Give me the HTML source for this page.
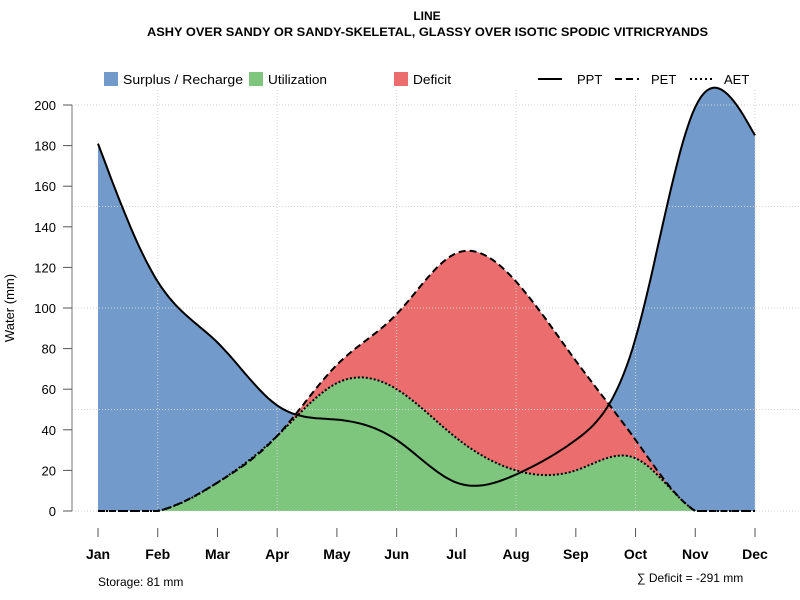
<!DOCTYPE html>
<html><head><meta charset="utf-8"><style>
body{margin:0;background:#fff}
svg{font-family:"Liberation Sans",sans-serif;display:block}
</style></head><body>
<svg id="c" width="800" height="600" xmlns="http://www.w3.org/2000/svg">
<text x="427" y="20" text-anchor="middle" font-size="12" font-weight="bold">LINE</text>
<text x="147" y="36" font-size="12" font-weight="bold" textLength="561" lengthAdjust="spacingAndGlyphs">ASHY OVER SANDY OR SANDY-SKELETAL, GLASSY OVER ISOTIC SPODIC VITRICRYANDS</text>
<g id="fills"></g><g id="grid"></g><g id="lines"></g><g id="axes"></g>
<g font-size="13">
<rect x="104" y="72" width="14" height="14" fill="#729ACA"/>
<text x="123" y="84" textLength="120" lengthAdjust="spacingAndGlyphs">Surplus / Recharge</text>
<rect x="249" y="72" width="14" height="14" fill="#7EC57D"/>
<text x="268" y="84" textLength="59" lengthAdjust="spacingAndGlyphs">Utilization</text>
<rect x="394" y="72" width="14" height="14" fill="#EB6D6E"/>
<text x="413" y="84" textLength="38" lengthAdjust="spacingAndGlyphs">Deficit</text>
<line x1="538" y1="79" x2="562" y2="79" stroke="#000" stroke-width="2"/>
<text x="577" y="84">PPT</text>
<line x1="615" y1="79" x2="639" y2="79" stroke="#000" stroke-width="2" stroke-dasharray="7,4"/>
<text x="651" y="84">PET</text>
<line x1="690" y1="79" x2="714" y2="79" stroke="#000" stroke-width="2" stroke-dasharray="2,3"/>
<text x="724" y="84">AET</text>
</g>
<text transform="translate(14,308) rotate(-90)" text-anchor="middle" font-size="13">Water (mm)</text>
<text x="98" y="586" font-size="12">Storage: 81 mm</text>
<text x="637" y="582" font-size="12">∑ Deficit = -291 mm</text>
</svg>
<script>
const months=["Jan","Feb","Mar","Apr","May","Jun","Jul","Aug","Sep","Oct","Nov","Dec"];
const ppt=[181,113,83,52,45,35,14,18,35,85,199,185];
const pet=[0,0,14,37,72,97,127,113,74,35,0,0];
const aet=[0,0,14,37,63,60,36,20,20,26,0,0];
const yTicks=[0,20,40,60,80,100,120,140,160,180,200];
const yGrid=[0,50,100,150,200];
const NS="http://www.w3.org/2000/svg";
const X=i=>98+i*(755-98)/11, Y=v=>511-v*(511-105)/200;
function spline(ys){const n=ys.length,m=new Array(n).fill(0);
 const a=[],b=[],c=[],d=[];for(let i=0;i<n;i++){if(i==0||i==n-1){a[i]=0;b[i]=1;c[i]=0;d[i]=0;}else{a[i]=1;b[i]=4;c[i]=1;d[i]=6*(ys[i+1]-2*ys[i]+ys[i-1]);}}
 for(let i=1;i<n;i++){const w=a[i]/b[i-1];b[i]-=w*c[i-1];d[i]-=w*d[i-1];}
 m[n-1]=d[n-1]/b[n-1];for(let i=n-2;i>=0;i--)m[i]=(d[i]-c[i]*m[i+1])/b[i];
 const pts=[];for(let i=0;i<n-1;i++){for(let k=0;k<20;k++){const t=k/20;
  const v=(1-t)*ys[i]+t*ys[i+1]+((1-t)**3-(1-t))*m[i]/6+(t**3-t)*m[i+1]/6;pts.push([X(i+t),Y(Math.max(0,v))]);}}
 pts.push([X(n-1),Y(ys[n-1])]);return pts;}
function el(t,at,p){const e=document.createElementNS(NS,t);for(const k in at)e.setAttribute(k,at[k]);p.appendChild(e);return e;}
const fills=document.getElementById('fills'),lines=document.getElementById('lines'),grid=document.getElementById('grid'),axes=document.getElementById('axes');
const sP=spline(ppt),sE=spline(pet),sA=spline(aet);
const d=p=>"M"+p.map(q=>q[0].toFixed(1)+","+q[1].toFixed(1)).join("L");
const area=p=>d(p)+"L"+X(11)+","+Y(0)+"L"+X(0)+","+Y(0)+"Z";
let e;
e=el('path',{d:area(sP),fill:'#729ACA'},fills);

e=el('path',{d:area(sE),fill:'#EB6D6E'},fills);

e=el('path',{d:area(sA),fill:'#7EC57D'},fills);

yGrid.forEach(v=>{e=el('line',{x1:72,x2:800,y1:Y(v),y2:Y(v),stroke:'#d3d3d3','stroke-dasharray':'1,2'},grid);
});
for(let i=1;i<12;i+=2){e=el('line',{x1:X(i),x2:X(i),y1:90,y2:Y(0),stroke:'#d3d3d3','stroke-dasharray':'1,2'},grid);
}
e=el('path',{d:d(sA),fill:'none',stroke:'#000','stroke-width':2,'stroke-dasharray':'2,2'},lines);

e=el('path',{d:d(sE),fill:'none',stroke:'#000','stroke-width':2,'stroke-dasharray':'7,4'},lines);

e=el('path',{d:d(sP),fill:'none',stroke:'#000','stroke-width':2},lines);

e=el('line',{x1:72,x2:72,y1:Y(200),y2:Y(0),stroke:'#777'},axes);

yTicks.forEach(v=>{e=el('line',{x1:63,x2:72,y1:Y(v),y2:Y(v),stroke:'#555'},axes);

e=el('text',{x:56,y:Y(v)+5,'text-anchor':'end','font-size':13},axes);e.textContent=v;
});
months.forEach((m,i)=>{e=el('line',{x1:X(i),x2:X(i),y1:528,y2:537,stroke:'#555'},axes);

e=el('text',{x:X(i),y:559,'text-anchor':'middle','font-size':14,'font-weight':'bold'},axes);e.textContent=m;
});
</script>
</body></html>
